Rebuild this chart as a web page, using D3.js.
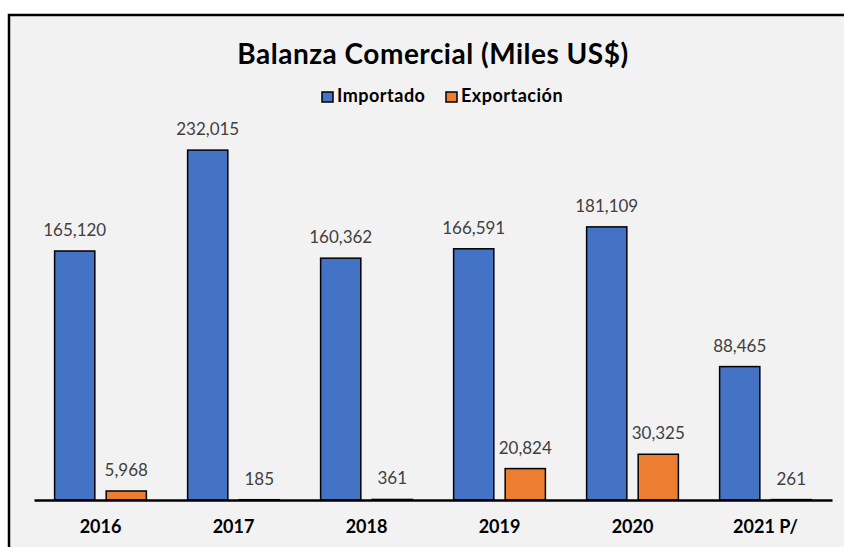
<!DOCTYPE html>
<html>
<head>
<meta charset="utf-8">
<script src="https://cdn.jsdelivr.net/npm/d3@7"></script>
<style>
  html, body { margin: 0; padding: 0; background: #fff; }
  svg { display: block; }
</style>
</head>
<body>
<svg id="chart" width="844" height="547"></svg>
<script>
// chart data
const categories = ['2016', '2017', '2018', '2019', '2020', '2021 P/'];
const seriesNames = ['Importado', 'Exportación'];
const importado = [165120, 232015, 160362, 166591, 181109, 88465];
const exportacion = [5968, 185, 361, 20824, 30325, 261];
const colors = ['#4472c4', '#ed7d31'];

const svg = d3.select('#chart');
const font = 'Lato, "Open Sans", sans-serif';

// frame (extends past the right and bottom edges)
svg.append('rect')
  .attr('x', 9).attr('y', 15)
  .attr('width', 860).attr('height', 560)
  .attr('fill', '#f2f2f2')
  .attr('stroke', '#000')
  .attr('stroke-width', 2.5);

// scales
const baseY = 500;
const x0 = d3.scaleBand()
  .domain(categories)
  .range([34, 832])
  .paddingInner(0.31)
  .paddingOuter(0.155);

const x1 = d3.scaleBand()
  .domain(seriesNames)
  .range([0, x0.bandwidth()])
  .paddingInner(0.22);

const y = d3.scaleLinear()
  .domain([0, 250000])
  .range([baseY, baseY - 377]);

const rows = categories.map((c, i) => ({
  cat: c,
  values: [
    { key: seriesNames[0], value: importado[i], color: colors[0] },
    { key: seriesNames[1], value: exportacion[i], color: colors[1] }
  ]
}));

const groups = svg.append('g')
  .selectAll('g')
  .data(rows)
  .join('g')
  .attr('transform', d => `translate(${x0(d.cat)},0)`);

groups.selectAll('rect')
  .data(d => d.values)
  .join('rect')
  .attr('x', d => x1(d.key))
  .attr('y', d => y(d.value))
  .attr('width', x1.bandwidth())
  .attr('height', d => baseY - y(d.value))
  .attr('fill', d => d.color)
  .attr('stroke', '#000')
  .attr('stroke-width', 1.5);

// value labels
groups.selectAll('text')
  .data(d => d.values)
  .join('text')
  .attr('x', d => x1(d.key) + x1.bandwidth() / 2)
  .attr('y', d => y(d.value) - 15)
  .attr('text-anchor', 'middle')
  .style('font-family', font)
  .style('font-size', '17px')
  .attr('fill', '#404040')
  .text(d => d3.format(',')(d.value));

// x axis
const xAxis = svg.append('g')
  .attr('transform', `translate(0,${baseY})`)
  .call(d3.axisBottom(x0).tickSize(0).tickPadding(20));
xAxis.select('.domain')
  .attr('stroke', '#000')
  .attr('stroke-width', 2.5);
xAxis.selectAll('text')
  .style('font-family', font)
  .style('font-size', '18px')
  .style('font-weight', 'bold')
  .attr('fill', '#000');

// title
svg.append('text')
  .attr('x', 433)
  .attr('y', 64)
  .attr('text-anchor', 'middle')
  .style('font-family', font)
  .style('font-size', '28px')
  .style('font-weight', 'bold')
  .style('letter-spacing', '0.5px')
  .attr('fill', '#000')
  .text('Balanza Comercial (Miles US$)');

// legend
const legendX = [322, 446];
const legend = svg.append('g')
  .selectAll('g')
  .data(seriesNames)
  .join('g')
  .attr('transform', (d, i) => `translate(${legendX[i]},91)`);

legend.append('rect')
  .attr('y', 1)
  .attr('width', 11).attr('height', 10)
  .attr('fill', (d, i) => colors[i])
  .attr('stroke', '#000')
  .attr('stroke-width', 1.5);

legend.append('text')
  .attr('x', 15)
  .attr('y', 11)
  .style('font-family', font)
  .style('font-size', '18px')
  .style('font-weight', 'bold')
  .style('letter-spacing', '0.5px')
  .attr('fill', '#000')
  .text(d => d);
</script>
</body>
</html>
